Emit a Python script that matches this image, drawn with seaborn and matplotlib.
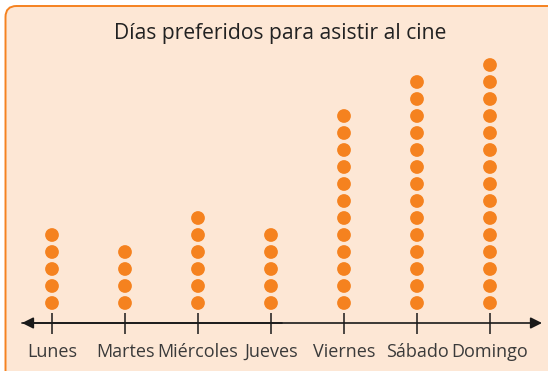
import matplotlib
matplotlib.use("Agg")
import matplotlib.pyplot as plt
from matplotlib.patches import FancyBboxPatch
import numpy as np
import pandas as pd
import seaborn as sns

# Number of people who prefer each day
dias = ["Lunes", "Martes", "Miércoles", "Jueves", "Viernes", "Sábado", "Domingo"]
personas = [5, 4, 6, 5, 12, 14, 15]
titulo = "Días preferidos para asistir al cine"

# One row per dot: day position and stack level
rows = []
for i, (dia, n) in enumerate(zip(dias, personas)):
    for k in range(1, n + 1):
        rows.append({"pos": i, "dia": dia, "nivel": k})
df = pd.DataFrame(rows)

sns.set_theme(style="white")
plt.rcParams["font.family"] = ["Open Sans", "DejaVu Sans"]

W, H = 548, 371
fig = plt.figure(figsize=(W / 100, H / 100), dpi=100)
fig.patch.set_facecolor("white")

# Rounded panel behind the chart (pixel coordinates)
panel = FancyBboxPatch((5.5, -20), W + 20, H - 6 + 20,
                       boxstyle="round,pad=0,rounding_size=11",
                       transform=None, facecolor="#FDE7D5",
                       edgecolor="#F58220", linewidth=1.4, zorder=-5)
fig.patches.append(panel)

ax = fig.add_axes([0, 0, 1, 1])
ax.set_facecolor("none")
ax.set_zorder(2)

# Pixel layout: tick spacing 73 px starting at 52 px; dots 17 px apart
x0, dx = 52, 73
y1, dy = 68, 17
ax.set_xlim(-x0 / dx, (W - x0) / dx)
ax.set_ylim(1 - y1 / dy, 1 + (H - y1) / dy)
ax.axis("off")

sns.scatterplot(data=df, x="pos", y="nivel", ax=ax, s=98, color="#F5821F",
                edgecolor="none", linewidth=0, legend=False, zorder=3)

# Number line with arrows at both ends
def px_x(p):
    return (p - x0) / dx

def px_y(p):  # p measured from the top
    return 1 + ((H - p) - y1) / dy

y_axis = px_y(323)
ax.annotate("", xy=(px_x(542), y_axis), xytext=(px_x(22), y_axis),
            arrowprops=dict(arrowstyle="-|>", color="#1a1a1a", lw=1.2,
                            mutation_scale=17, shrinkA=0, shrinkB=0))
ax.annotate("", xy=(px_x(22), y_axis), xytext=(px_x(282), y_axis),
            arrowprops=dict(arrowstyle="-|>", color="#1a1a1a", lw=1.2,
                            mutation_scale=17, shrinkA=0, shrinkB=0))
pos = np.arange(len(dias))
ax.vlines(pos, px_y(334), px_y(313), color="#1a1a1a", lw=1.1)

for i, d in enumerate(dias):
    ax.text(i, px_y(352), d, ha="center", va="center", fontsize=13,
            color="#3a3a3a")

ax.text(px_x(280), px_y(33), titulo, ha="center", va="center",
        fontsize=15.2, color="#222222")

fig.savefig("out.png", dpi=100, facecolor="white")
